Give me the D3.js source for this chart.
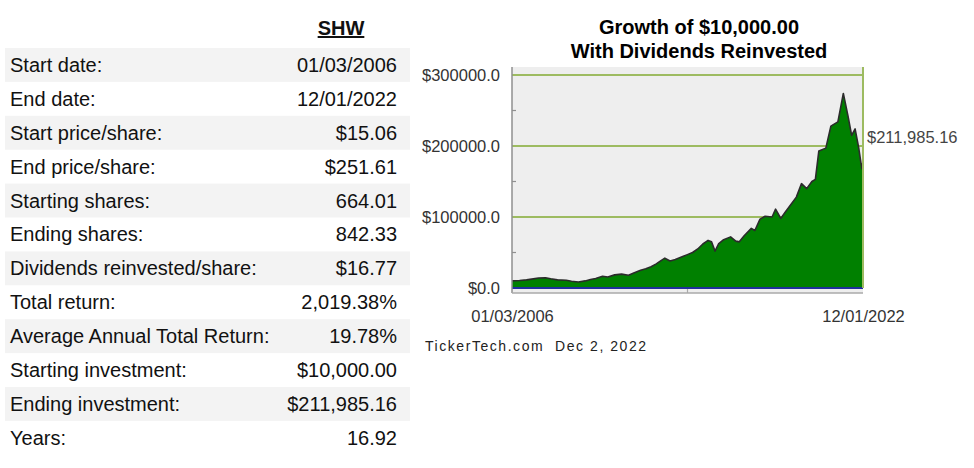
<!DOCTYPE html>
<html>
<head>
<meta charset="utf-8">
<script src="https://cdn.jsdelivr.net/npm/d3@7"></script>
<style>
  body { margin: 0; background: #fff; }
  svg { display: block; font-family: "Liberation Sans", Arial, sans-serif; }
</style>
</head>
<body>
<div id="chart"></div>
<script>
// table data
const ticker = 'SHW'
const statLabels = [
  'Start date:', 'End date:', 'Start price/share:', 'End price/share:',
  'Starting shares:', 'Ending shares:', 'Dividends reinvested/share:', 'Total return:',
  'Average Annual Total Return:', 'Starting investment:', 'Ending investment:', 'Years:',
]
const statValues = [
  '01/03/2006', '12/01/2022', '$15.06', '$251.61',
  '664.01', '842.33', '$16.77', '2,019.38%',
  '19.78%', '$10,000.00', '$211,985.16', '16.92',
]

// chart data
const chartTitle = ['Growth of $10,000.00', 'With Dividends Reinvested']
const growthDates = [
  '2006-01-03', '2006-05-15', '2006-09-15', '2006-12-15', '2007-04-15', '2007-08-15', '2007-11-15',
  '2008-03-15', '2008-08-15', '2008-11-15', '2009-03-15', '2009-07-15', '2009-10-15',
  '2010-01-15', '2010-05-15', '2010-08-15', '2010-12-15', '2011-04-15', '2011-08-15', '2011-11-15',
  '2012-03-15', '2012-06-15', '2012-09-15', '2012-12-15', '2013-03-15', '2013-05-15', '2013-08-15',
  '2013-11-15', '2014-03-15', '2014-06-15', '2014-09-15', '2014-12-15', '2015-03-15', '2015-06-15',
  '2015-08-15', '2015-10-15', '2015-12-15', '2016-03-15', '2016-07-15', '2016-10-15', '2016-12-15',
  '2017-03-15', '2017-07-15', '2017-09-15', '2017-12-15', '2018-03-15', '2018-07-15', '2018-09-15',
  '2018-12-15', '2019-03-15', '2019-06-15', '2019-09-15', '2019-12-15', '2020-03-15', '2020-06-15',
  '2020-08-15', '2020-10-15', '2021-02-15', '2021-05-15', '2021-09-15', '2021-12-20', '2022-03-15',
  '2022-05-15', '2022-07-15', '2022-09-15', '2022-11-10', '2022-12-01',
]
const growthValues = [
  10000, 10500, 11500, 12500, 14000, 14500, 13000,
  11500, 11000, 9500, 8500, 10000, 12000,
  13500, 16500, 15500, 18500, 19500, 18000, 21000,
  25000, 27000, 30000, 34000, 39000, 42000, 38000,
  40000, 44000, 47000, 50000, 55000, 62000, 67000,
  65000, 52000, 62000, 68000, 72000, 66000, 65000,
  74000, 84000, 81000, 97000, 101000, 100000, 111000,
  98000, 108000, 118000, 128000, 147000, 140000, 150000,
  153000, 193000, 197000, 228000, 234000, 274000, 241000,
  215000, 224000, 198000, 168000, 178000,
]
const yTicks = [0, 100000, 200000, 300000]
const yMinorTicks = [50000, 150000, 250000]
const endValue = 211985.16
const footerText = 'TickerTech.com  Dec 2, 2022'

const width = 974
const height = 468

const svg = d3.select('#chart').append('svg')
  .attr('width', width)
  .attr('height', height)
  .attr('viewBox', [0, 0, width, height])

// ---- stats table ----
const rowTop = 48
const rowH = 33.9

svg.append('text')
  .attr('x', 341)
  .attr('y', 35)
  .attr('text-anchor', 'middle')
  .attr('font-size', 20)
  .attr('font-weight', 'bold')
  .attr('fill', '#111')
  .attr('text-decoration', 'underline')
  .text(ticker)

const rows = svg.append('g')
  .selectAll('g')
  .data(statLabels)
  .join('g')
  .attr('transform', (d, i) => `translate(0 ${rowTop + i * rowH})`)

rows.filter((d, i) => i % 2 === 0)
  .append('rect')
  .attr('x', 5)
  .attr('width', 405)
  .attr('height', rowH)
  .attr('fill', '#f3f3f3')

rows.append('text')
  .attr('x', 10)
  .attr('y', rowH / 2 + 7)
  .attr('font-size', 20)
  .attr('fill', '#111')
  .text((d) => d)

rows.append('text')
  .attr('x', 397)
  .attr('y', rowH / 2 + 7)
  .attr('text-anchor', 'end')
  .attr('font-size', 20)
  .attr('fill', '#111')
  .text((d, i) => statValues[i])

// ---- growth chart ----
const plot = { left: 512, right: 863, top: 67, bottom: 293 }
const parseDate = d3.timeParse('%Y-%m-%d')
const data = growthDates.map((d, i) => ({ date: parseDate(d), value: growthValues[i] }))

const x = d3.scaleTime()
  .domain([data[0].date, data[data.length - 1].date])
  .range([plot.left, plot.right])

const y = d3.scaleLinear()
  .domain([0, 300000])
  .range([288, 75])

svg.append('g')
  .attr('text-anchor', 'middle')
  .attr('font-size', 20)
  .attr('font-weight', 'bold')
  .attr('fill', '#000')
  .selectAll('text')
  .data(chartTitle)
  .join('text')
  .attr('x', 699)
  .attr('y', (d, i) => 34 + i * 24)
  .text((d) => d)

svg.append('rect')
  .attr('x', plot.left)
  .attr('y', plot.top)
  .attr('width', plot.right - plot.left)
  .attr('height', plot.bottom - plot.top)
  .attr('fill', '#eeeeee')

svg.append('g')
  .selectAll('line')
  .data(yTicks.filter((d) => d > 0))
  .join('line')
  .attr('x1', plot.left)
  .attr('x2', plot.right)
  .attr('y1', (d) => y(d))
  .attr('y2', (d) => y(d))
  .attr('stroke', '#9dbb61')
  .attr('stroke-width', 2)

const area = d3.area()
  .x((d) => x(d.date))
  .y0(y(0))
  .y1((d) => y(d.value))

const line = d3.line()
  .x((d) => x(d.date))
  .y((d) => y(d.value))

svg.append('path')
  .datum(data)
  .attr('d', area)
  .attr('fill', '#008000')

svg.append('path')
  .datum(data)
  .attr('d', line)
  .attr('fill', 'none')
  .attr('stroke', '#2b2b2b')
  .attr('stroke-width', 1.6)
  .attr('stroke-linejoin', 'round')

// zero line
svg.append('line')
  .attr('x1', plot.left)
  .attr('x2', plot.right)
  .attr('y1', y(0))
  .attr('y2', y(0))
  .attr('stroke', '#1f2f9c')
  .attr('stroke-width', 2.2)

// right border
svg.append('line')
  .attr('x1', plot.right)
  .attr('x2', plot.right)
  .attr('y1', plot.top)
  .attr('y2', y(0))
  .attr('stroke', '#9dbb61')
  .attr('stroke-width', 2)

// left axis
const axisY = svg.append('g')
  .attr('transform', `translate(${plot.left} 0)`)
  .call(d3.axisLeft(y).tickValues(yTicks).tickSize(0).tickPadding(12)
    .tickFormat((d) => '$' + d.toFixed(1)))
axisY.select('.domain').remove()
axisY.selectAll('text')
  .attr('font-size', 16.5)
  .attr('font-family', '"Liberation Sans", Arial, sans-serif')
  .attr('fill', '#333')

svg.append('line')
  .attr('x1', plot.left)
  .attr('x2', plot.left)
  .attr('y1', plot.top)
  .attr('y2', plot.bottom)
  .attr('stroke', '#8f8f8f')
  .attr('stroke-width', 1.5)

svg.append('g')
  .selectAll('line')
  .data(yMinorTicks)
  .join('line')
  .attr('x1', plot.left)
  .attr('x2', plot.left + 4)
  .attr('y1', (d) => y(d))
  .attr('y2', (d) => y(d))
  .attr('stroke', '#8f8f8f')
  .attr('stroke-width', 1.2)

// bottom axis
const axisX = svg.append('g')
  .attr('transform', `translate(0 ${plot.bottom})`)
  .call(d3.axisBottom(x).tickValues(x.domain()).tickSize(0).tickPadding(17)
    .tickFormat(d3.timeFormat('%m/%d/%Y')))
axisX.select('.domain').remove()
axisX.selectAll('text')
  .attr('font-size', 16.5)
  .attr('font-family', '"Liberation Sans", Arial, sans-serif')
  .attr('fill', '#333')

svg.append('line')
  .attr('x1', plot.left)
  .attr('x2', plot.right)
  .attr('y1', plot.bottom)
  .attr('y2', plot.bottom)
  .attr('stroke', '#aaaaaa')
  .attr('stroke-width', 1.5)

svg.append('line')
  .attr('x1', (plot.left + plot.right) / 2)
  .attr('x2', (plot.left + plot.right) / 2)
  .attr('y1', plot.bottom)
  .attr('y2', plot.bottom - 4)
  .attr('stroke', '#aaaaaa')
  .attr('stroke-width', 1.2)

// end value label
svg.append('text')
  .attr('x', plot.right + 4)
  .attr('y', y(endValue) + 6)
  .attr('font-size', 16.5)
  .attr('fill', '#444')
  .text(d3.format('$,.2f')(endValue))

svg.append('text')
  .attr('x', 425)
  .attr('y', 351)
  .attr('font-size', 14)
  .attr('letter-spacing', 1.55)
  .attr('fill', '#222')
  .style('white-space', 'pre')
  .text(footerText)
</script>
</body>
</html>
